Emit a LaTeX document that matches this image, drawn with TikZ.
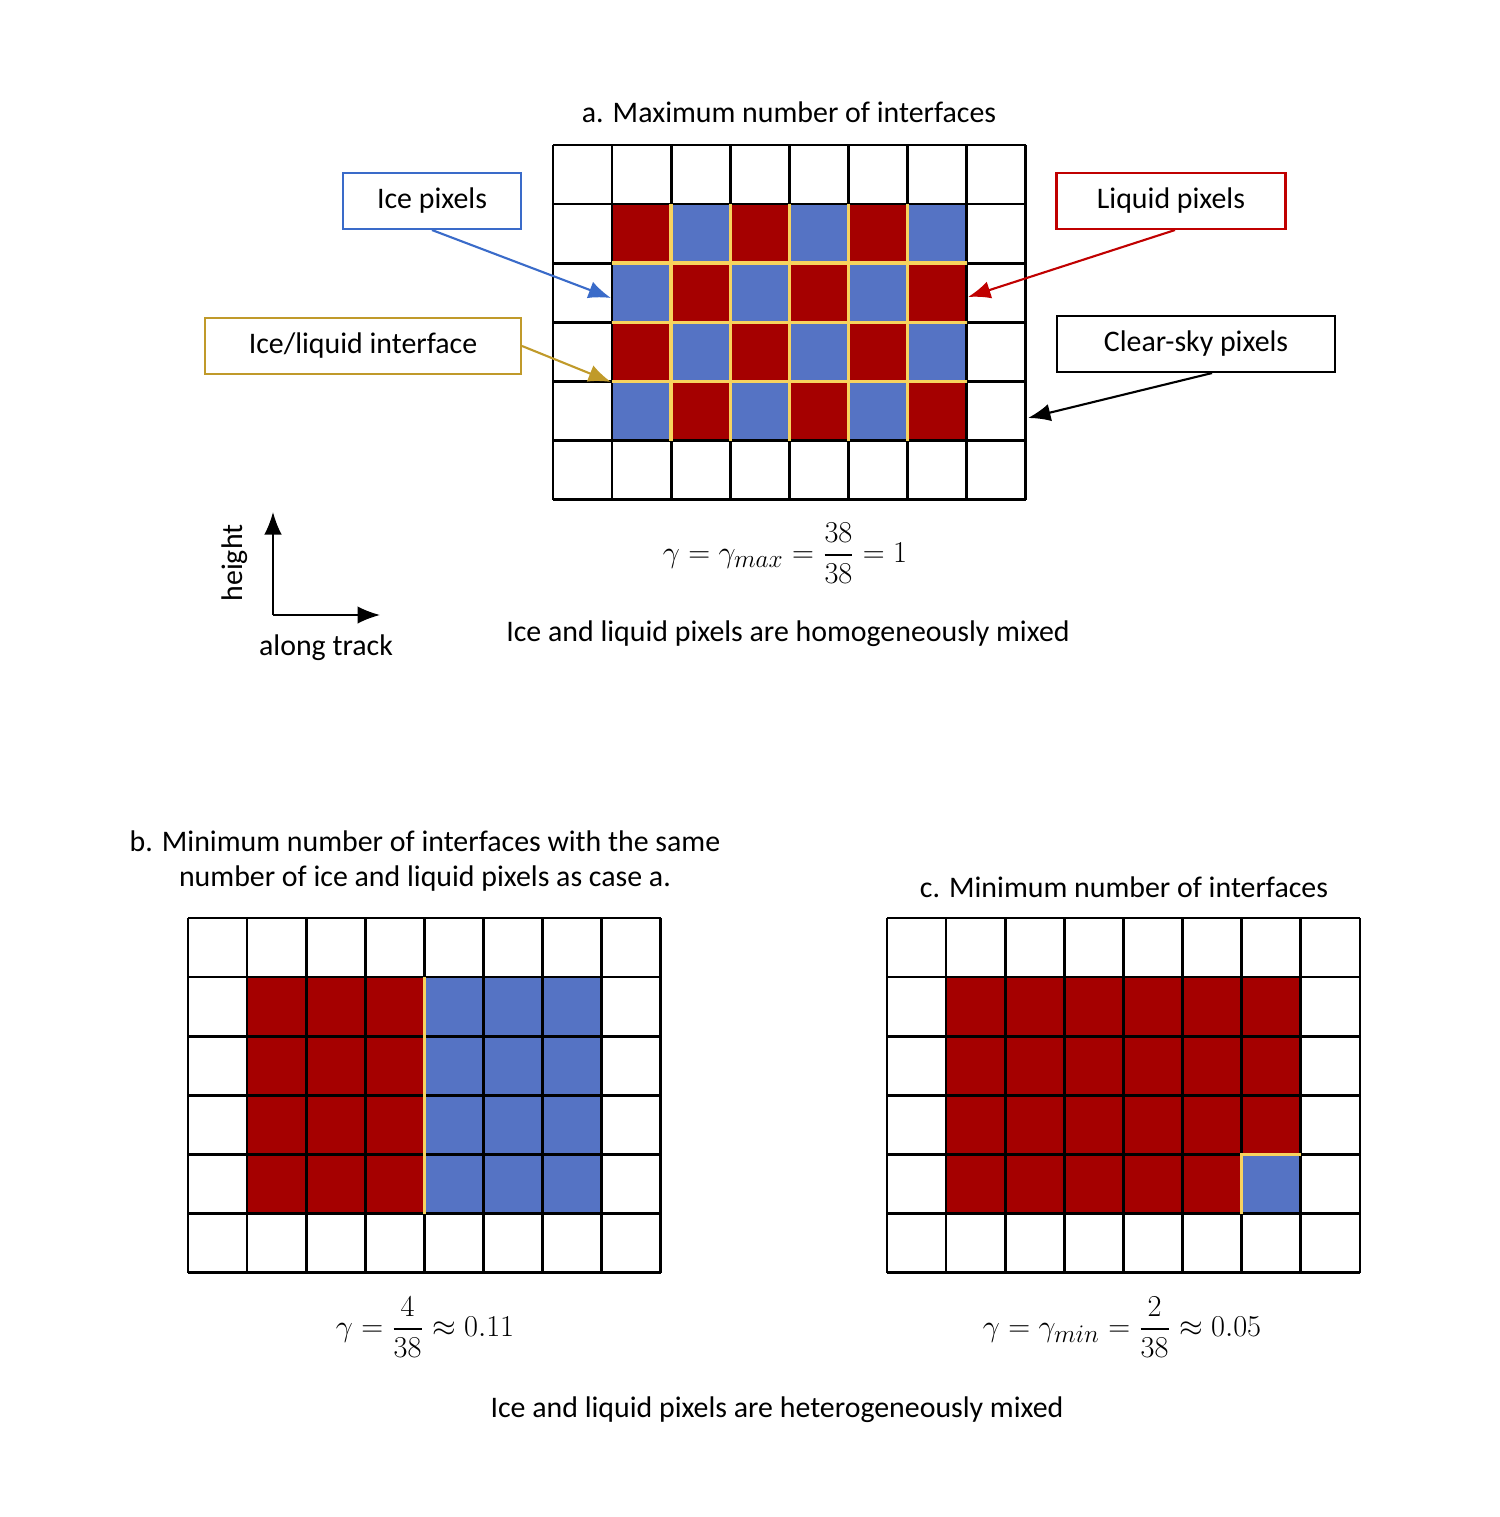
\documentclass[tikz,border=0pt]{standalone}
\usepackage{amsmath}
\usepackage{fontspec}
\setmainfont{Carlito}
\usetikzlibrary{positioning, calc, arrows.meta}
\definecolor{liq}{HTML}{A50000}
\definecolor{ice}{HTML}{5573C4}
\definecolor{iface}{HTML}{F7D35E}
\definecolor{goldline}{HTML}{C09A2A}
\definecolor{iceline}{HTML}{3A6BC9}
\definecolor{liqline}{HTML}{C00000}
\tikzset{%
	lab/.style={draw, very thick, rectangle, minimum height=1.12cm, inner xsep=3mm, font=\fontsize{17}{20}\selectfont},
	txt/.style={font=\fontsize{17}{20}\selectfont, align=center},
	eqn/.style={font=\fontsize{19}{22}\selectfont},
	gridline/.style={line width=1.5pt},
	ifline/.style={iface, line width=2pt},
	pointer/.style={-{Latex[length=4.5mm,width=3.5mm]}, line width=1.2pt}
}
% black 8x6 grid with top left corner at (#1,#2), cells of 59.1 px
\newcommand{\pixgrid}[2]{%
	\foreach \i in {0,...,8} \draw[gridline] (#1+\i*59.1,#2) -- (#1+\i*59.1,#2+354.6);
	\foreach \j in {0,...,6} \draw[gridline] (#1,#2+\j*59.1) -- (#1+472.8,#2+\j*59.1);
}
\begin{document}
\begin{tikzpicture}[x=0.02cm, y=-0.02cm]
	\useasboundingbox (0,0) rectangle (1500,1517);

	% ---- case a
	\node[txt] (titleA) at (789,112) {a. Maximum number of interfaces};
	\foreach \r in {1,...,4} \foreach \c in {1,...,6} {
		\pgfmathtruncatemacro{\odd}{mod(\r+\c,2)}
		\ifnum\odd=0 \def\col{liq}\else\def\col{ice}\fi
		\fill[\col] (553+\c*59.1,145+\r*59.1) rectangle ++(59.1,59.1);
	}
	\pixgrid{553}{145}
	\foreach \j in {2,3,4} \draw[ifline] (612.1,145+\j*59.1) -- (966.7,145+\j*59.1);
	\foreach \i in {2,...,6} \draw[ifline] (553+\i*59.1,204.1) -- (553+\i*59.1,440.5);

	\node[lab, draw=iceline, minimum width=3.56cm] (icebox) at (432,201) {Ice pixels};
	\node[lab, draw=liqline, minimum width=4.58cm] (liqbox) at (1171,201) {Liquid pixels};
	\node[lab, draw=goldline, minimum width=6.32cm] (ifbox) at (363,346) {Ice/liquid interface};
	\node[lab, draw=black, minimum width=5.56cm] (skybox) at (1196,344) {Clear-sky pixels};
	\coordinate (iceTip) at (611,298);
	\coordinate (liqTip) at (968,297);
	\coordinate (ifTip) at (611,382);
	\coordinate (skyTip) at (1028,418);
	\draw[pointer, iceline] (icebox.south) -- (iceTip);
	\draw[pointer, liqline] ($(liqbox.south)+(4,0)$) -- (liqTip);
	\draw[pointer, goldline] (ifbox.east) -- (ifTip);
	\draw[pointer, black] ($(skybox.south)+(16,0)$) -- (skyTip);

	\coordinate (orig) at (273,615);
	\coordinate (up) at (273,512);
	\coordinate (right) at (380,615);
	\draw[pointer, line width=1pt] (orig) -- (up);
	\draw[pointer, line width=1pt] (orig) -- (right);
	\node[txt, rotate=90] (height) at (235,563) {height};
	\node[txt] (along) at (326,648) {along track};

	\node[eqn] (eqA) at (785,553) {$\gamma=\gamma_{max}=\dfrac{38}{38}=1$};
	\node[txt] (homA) at (788,634) {Ice and liquid pixels are homogeneously mixed};

	% ---- case b
	\node[txt] (titleB) at (425,861) {b. Minimum number of interfaces with the same\\ number of ice and liquid pixels as case a.};
	\foreach \r in {1,...,4} \foreach \c in {1,...,6} {
		\ifnum\c<4 \def\col{liq}\else\def\col{ice}\fi
		\fill[\col] (188+\c*59.1,918+\r*59.1) rectangle ++(59.1,59.1);
	}
	\pixgrid{188}{918}
	\draw[ifline] (188+4*59.1,977.1) -- (188+4*59.1,1213.5);
	\node[eqn] (eqB) at (425,1327) {$\gamma=\dfrac{4}{38}\approx 0.11$};

	% ---- case c
	\node[txt] (titleC) at (1124,887) {c. Minimum number of interfaces};
	\fill[liq] (887+59.1,918+59.1) rectangle ++(354.6,236.4);
	\fill[ice] (887+6*59.1,918+4*59.1) rectangle ++(59.1,59.1);
	\pixgrid{887}{918}
	\draw[ifline] (887+6*59.1,918+5*59.1) -- (887+6*59.1,918+4*59.1) -- (887+7*59.1,918+4*59.1);
	\node[eqn] (eqC) at (1122,1327) {$\gamma=\gamma_{min}=\dfrac{2}{38}\approx 0.05$};

	\node[txt] (hetero) at (777,1410) {Ice and liquid pixels are heterogeneously mixed};
\end{tikzpicture}
\end{document}
